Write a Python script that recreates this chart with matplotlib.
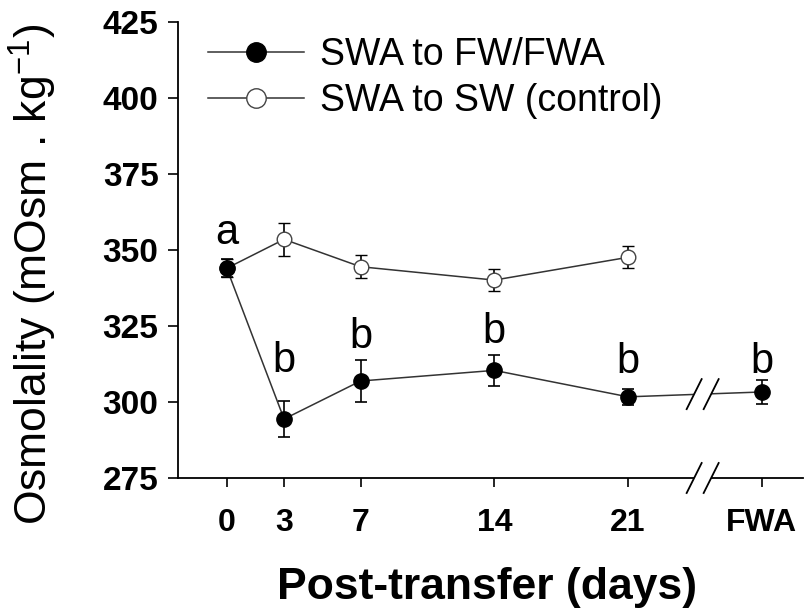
import matplotlib
matplotlib.use("Agg")
import matplotlib.pyplot as plt
from matplotlib.patches import Polygon

plt.rcParams['font.family'] = ['Liberation Sans', 'DejaVu Sans']
plt.rcParams['mathtext.fontset'] = 'custom'
plt.rcParams['mathtext.rm'] = 'Liberation Sans'

# ---- data ----
fw_x = [0, 3, 7, 14, 21, 28]          # 28 = FWA position after axis break
fw_y = [344.0, 294.4, 306.9, 310.4, 301.7, 303.3]
fw_err = [3.0, 6.0, 7.0, 5.1, 2.6, 4.0]

sw_x = [0, 3, 7, 14, 21]
sw_y = [344.0, 353.5, 344.5, 340.1, 347.6]
sw_err = [3.0, 5.5, 3.7, 3.6, 3.6]

letters = ['a', 'b', 'b', 'b', 'b', 'b']
letter_y = [352.0, 310.0, 317.7, 319.3, 309.4, 309.5]

xtick_pos = [0, 3, 7, 14, 21, 28]
xtick_labels = ['0', '3', '7', '14', '21', 'FWA']
ytick_vals = [275, 300, 325, 350, 375, 400, 425]
break_x = 24.9

fig = plt.figure(figsize=(8.07, 6.11), dpi=100)
ax = fig.add_axes([178/807, 1-478/611, 625/807, 456/611])

line_col = '#333333'
# SW series (drawn below)
ax.errorbar(sw_x, sw_y, yerr=sw_err, fmt='o', color='black', ecolor='black',
            elinewidth=1.2, capsize=4, capthick=1.2, markersize=10.5,
            markerfacecolor='white', markeredgecolor='#444444',
            markeredgewidth=1.0, zorder=4)
ax.plot(sw_x, sw_y, '-', color=line_col, lw=1.1, zorder=2)
# FW series (on top)
ax.errorbar(fw_x, fw_y, yerr=fw_err, fmt='o', color='black', ecolor='black',
            elinewidth=1.2, capsize=4, capthick=1.2, markersize=11,
            markerfacecolor='black', markeredgecolor='black', zorder=6)
ax.plot(fw_x, fw_y, '-', color=line_col, lw=1.1, zorder=2)

# legend handles
h1, = ax.plot([], [], '-o', color=line_col, lw=1.1, markersize=14,
              markerfacecolor='black', markeredgecolor='black')
h2, = ax.plot([], [], '-o', color=line_col, lw=1.1, markersize=14,
              markerfacecolor='white', markeredgecolor='#444444')
leg = ax.legend([h1, h2], ['SWA to FW/FWA', 'SWA to SW (control)'],
                loc='upper left', bbox_to_anchor=(0.048, 0.967), frameon=False,
                fontsize=27, handlelength=2.55, handletextpad=0.45,
                labelspacing=0.27, borderpad=0, borderaxespad=0)

# significance letters
for x, ly, t in zip(fw_x, letter_y, letters):
    ax.text(x, ly, t, ha='center', va='baseline', fontsize=30, zorder=7)

ax.set_xlim(-2.55, 30.15)
ax.set_ylim(275, 425)
ax.set_yticks(ytick_vals)
ax.set_yticklabels([str(v) for v in ytick_vals], fontsize=24, fontweight='bold')
ax.set_xticks(xtick_pos)
ax.set_xticklabels(xtick_labels, fontsize=23, fontweight='bold')
ax.tick_params(axis='y', direction='out', length=7, width=1.2, pad=7)
ax.tick_params(axis='x', direction='out', length=6.5, width=1.2, pad=15)
for s in ['top', 'right']:
    ax.spines[s].set_visible(False)
for s in ['left', 'bottom']:
    ax.spines[s].set_linewidth(1.3)

ax.set_ylabel('Osmolality (mOsm . kg$^{-1}$)', fontsize=32)
ax.yaxis.set_label_coords(-0.19, 0.447)
ax.set_xlabel('Post-transfer (days)', fontsize=32, fontweight='bold')
ax.xaxis.set_label_coords(0.494, -0.195)

# axis break marks
px_x = 625 / (30.15 + 2.55)   # pixels per day
px_y = 456 / 150.0            # pixels per unit
def brk(yc, z):
    hw = 7.5 / px_x
    hh = 15 / px_y
    off = 8.5 / px_x
    xa, xb = break_x - off, break_x + off
    poly = Polygon([(xa - hw, yc - hh), (xa + hw, yc + hh),
                    (xb + hw, yc + hh), (xb - hw, yc - hh)],
                   closed=True, facecolor='white', edgecolor='none',
                   zorder=z, clip_on=False)
    ax.add_patch(poly)
    for xc in (xa, xb):
        ax.plot([xc - hw, xc + hw], [yc - hh, yc + hh], color='black',
                lw=1.3, zorder=z + 0.1, clip_on=False)

yb = fw_y[4] + (fw_y[5] - fw_y[4]) * (break_x - fw_x[4]) / (fw_x[5] - fw_x[4])
brk(yb, 3)
brk(275, 3)

fig.savefig('out.png', dpi=100)
